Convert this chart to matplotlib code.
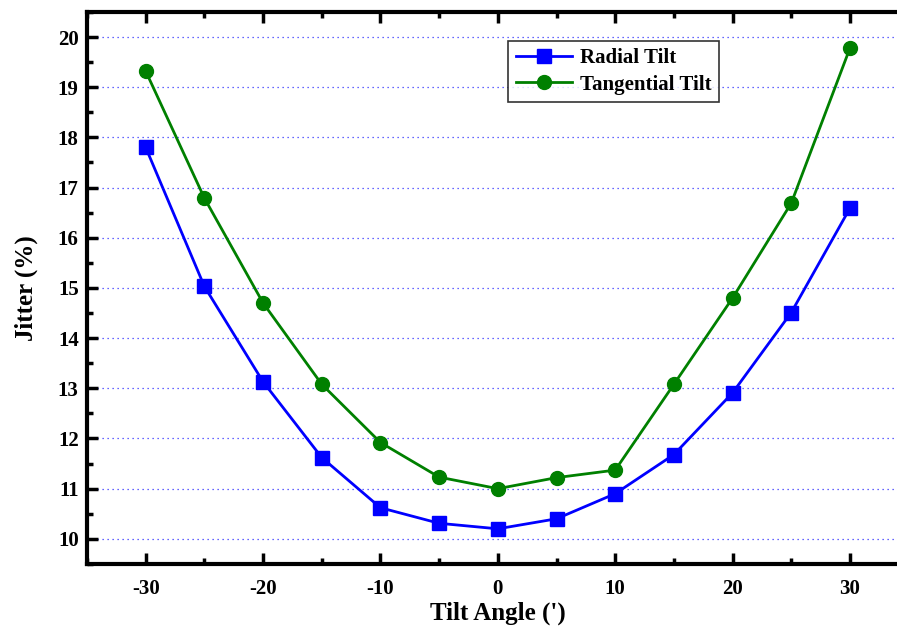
import matplotlib
matplotlib.use("Agg")
import matplotlib.pyplot as plt
from matplotlib.ticker import MultipleLocator, FuncFormatter

tilt_angle = [-30, -25, -20, -15, -10, -5, 0, 5, 10, 15, 20, 25, 30]
radial_tilt = [17.80, 15.03, 13.13, 11.62, 10.62, 10.31, 10.20, 10.40, 10.90, 11.68, 12.91, 14.51, 16.59]
tangential_tilt = [19.32, 16.79, 14.70, 13.08, 11.92, 11.23, 11.00, 11.22, 11.37, 13.08, 14.80, 16.69, 19.78]

plt.rcParams['font.family'] = ['Liberation Serif', 'DejaVu Serif']
plt.rcParams['font.weight'] = 'bold'
plt.rcParams['axes.unicode_minus'] = False

fig = plt.figure(figsize=(8.97, 6.28), dpi=100)
ax = fig.add_axes([0.097, 0.102, 0.916, 0.879])

ax.plot(tilt_angle, radial_tilt, color='#0000ff', lw=2, marker='s', ms=9.5,
        label='Radial Tilt', zorder=3)
ax.plot(tilt_angle, tangential_tilt, color='#008000', lw=2, marker='o', ms=10,
        label='Tangential Tilt', zorder=3)

ax.set_xlim(-35, 35)
ax.set_ylim(9.5, 20.5)
ax.xaxis.set_major_locator(MultipleLocator(10))
ax.xaxis.set_minor_locator(MultipleLocator(5))
ax.yaxis.set_major_locator(MultipleLocator(1))
ax.yaxis.set_minor_locator(MultipleLocator(0.5))
ax.xaxis.set_major_formatter(FuncFormatter(lambda v, p: f"{v:.0f}"))
ax.yaxis.set_major_formatter(FuncFormatter(lambda v, p: f"{v:.0f}"))

ax.grid(axis='y', which='major', color='#0000ff', linestyle=(0, (1, 3)), lw=0.9, alpha=0.8)

for s in ax.spines.values():
    s.set_linewidth(3)
ax.tick_params(which='both', direction='in', top=True, right=True, width=2.5, labelsize=15)
ax.tick_params(which='major', length=8)
ax.tick_params(which='minor', length=4)
ax.tick_params(axis='x', pad=11)
ax.tick_params(axis='y', pad=6)
for lab in ax.get_xticklabels() + ax.get_yticklabels():
    lab.set_fontweight('bold')

ax.set_xlabel("Tilt Angle (')", fontsize=18, fontweight='bold', labelpad=2)
ax.set_ylabel("Jitter (%)", fontsize=18, fontweight='bold', labelpad=14)

leg = ax.legend(loc='upper left', bbox_to_anchor=(0.5, 0.966), fontsize=15,
                frameon=True, fancybox=False, edgecolor='black',
                handlelength=2.7, borderpad=0.35, labelspacing=0.3, handletextpad=0.4)
leg.get_frame().set_linewidth(1.2)
for t in leg.get_texts():
    t.set_fontweight('bold')

fig.savefig('out.png', dpi=100)
